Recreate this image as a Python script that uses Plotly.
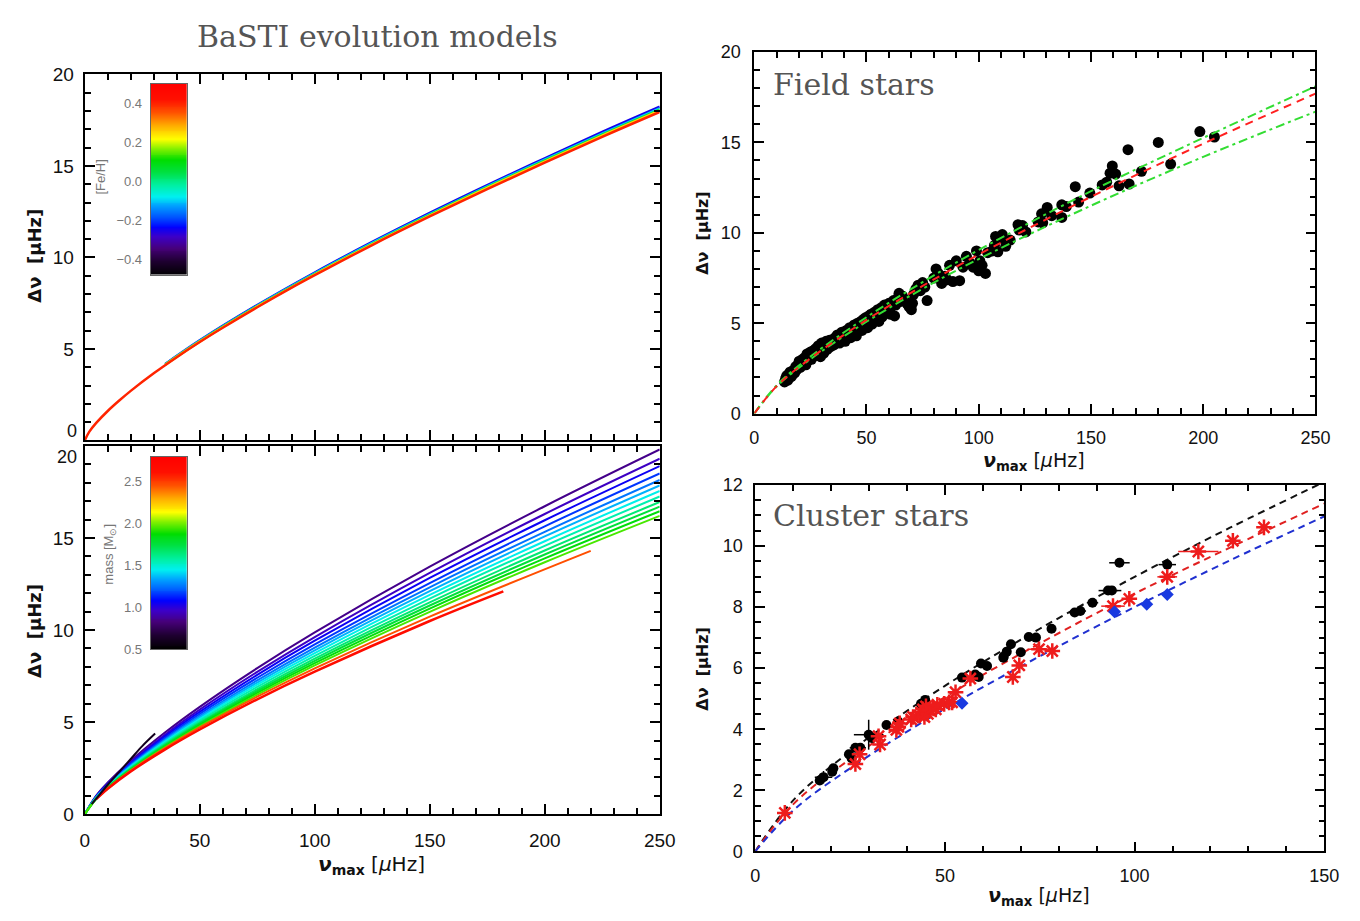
import numpy as np
import plotly.graph_objects as go
from plotly.colors import sample_colorscale

W, H = 1360, 921

# ---------------- data ----------------
# Panel A: BaSTI tracks coloured by [Fe/H]
feh_values = [-0.25, -0.10, 0.05, 0.25]
feh_numax = [35, 50, 75, 100, 125, 150, 175, 200, 225, 250]
feh_dnu_m025 = [4.18, 5.47, 7.40, 9.18, 10.85, 12.44, 13.96, 15.42, 16.86, 18.24]
feh_dnu_m010 = [4.16, 5.44, 7.36, 9.13, 10.80, 12.37, 13.89, 15.35, 16.77, 18.15]
feh_dnu_p005 = [4.15, 5.42, 7.33, 9.09, 10.75, 12.33, 13.84, 15.29, 16.71, 18.08]
feh_dnu_p025 = [4.14, 5.40, 7.31, 9.07, 10.72, 12.29, 13.80, 15.24, 16.66, 18.02]
feh_red_value = 0.40
feh_red_numax = [0, 2, 5, 10, 15, 20, 30, 40, 50, 60, 75, 90, 100, 125, 150, 175, 200, 225, 250]
feh_red_dnu = [0, 0.48, 0.96, 1.61, 2.18, 2.71, 3.67, 4.55, 5.38, 6.16, 7.28, 8.35, 9.03,
               10.68, 12.24, 13.74, 15.18, 16.59, 17.95]

# Panel B: BaSTI tracks coloured by mass
mass_values = [0.85, 0.95, 1.05, 1.15, 1.25, 1.35, 1.45, 1.55, 1.65, 1.75, 1.85, 1.95]
mass_numax = [0, 5, 10, 20, 35, 50, 75, 100, 150, 200, 250]
mass_dnu_085 = [0, 1.01, 1.72, 2.91, 4.45, 5.83, 7.93, 9.87, 13.44, 16.72, 19.80]
mass_dnu_095 = [0, 0.99, 1.67, 2.83, 4.33, 5.68, 7.73, 9.62, 13.10, 16.30, 19.30]
mass_dnu_105 = [0, 0.97, 1.64, 2.77, 4.24, 5.56, 7.57, 9.42, 12.83, 15.96, 18.90]
mass_dnu_115 = [0, 0.95, 1.60, 2.72, 4.15, 5.45, 7.41, 9.22, 12.55, 15.63, 18.50]
mass_dnu_125 = [0, 0.93, 1.57, 2.66, 4.07, 5.34, 7.27, 9.05, 12.32, 15.33, 18.15]
mass_dnu_135 = [0, 0.91, 1.55, 2.62, 4.01, 5.26, 7.15, 8.90, 12.11, 15.08, 17.85]
mass_dnu_145 = [0, 0.90, 1.52, 2.58, 3.94, 5.17, 7.03, 8.75, 11.91, 14.82, 17.55]
mass_dnu_155 = [0, 0.88, 1.49, 2.53, 3.87, 5.08, 6.91, 8.60, 11.71, 14.57, 17.25]
mass_dnu_165 = [0, 0.87, 1.47, 2.49, 3.81, 4.99, 6.79, 8.45, 11.50, 14.32, 16.95]
mass_dnu_175 = [0, 0.85, 1.45, 2.45, 3.75, 4.92, 6.69, 8.33, 11.33, 14.10, 16.70]
mass_dnu_185 = [0, 0.84, 1.43, 2.41, 3.69, 4.84, 6.59, 8.20, 11.16, 13.89, 16.45]
mass_dnu_195 = [0, 0.83, 1.40, 2.38, 3.64, 4.77, 6.49, 8.08, 10.99, 13.68, 16.20]
mass_orange_value = 2.45
mass_orange_numax = [5, 10, 20, 35, 50, 75, 100, 150, 220]
mass_orange_dnu = [0.84, 1.41, 2.37, 3.60, 4.71, 6.38, 7.92, 10.73, 14.30]
mass_red_value = 2.65
mass_red_numax = [5, 10, 20, 35, 50, 75, 100, 150, 182]
mass_red_dnu = [0.82, 1.38, 2.32, 3.52, 4.60, 6.24, 7.74, 10.49, 12.10]
mass_low_value = 0.60
mass_low_numax = [3, 5, 10, 15, 20, 25, 30.6]
mass_low_dnu = [0.55, 0.85, 1.60, 2.30, 3.00, 3.70, 4.38]

# Panel C: field stars
field_numax = [13.5, 14.0, 14.5, 15.0, 15.5, 16.0, 16.5, 17.0, 17.5, 18.0, 18.5, 19.0, 19.5, 20.0, 20.5,
               21.0, 21.5, 22.0, 22.5, 23.0, 23.5, 24.0, 24.5, 25.0, 25.5, 26.0, 26.5, 27.0, 27.5, 28.0,
               28.5, 29.0, 29.5, 30.0, 30.5, 31.0, 31.5, 32.0, 32.5, 33.0, 33.5, 34.0, 34.5, 35.0, 35.5,
               36.0, 36.5, 37.0, 37.5, 38.0, 38.5, 39.0, 39.5, 40.0, 40.5, 41.0, 41.5, 42.0, 42.5, 43.0,
               43.5, 44.0, 44.5, 45.0, 45.5, 46.0, 46.5, 47.0, 47.5, 48.0, 48.5, 49.0, 49.5, 50.0, 50.5,
               51.0, 51.5, 52.0, 52.5, 53.0, 53.5, 54.0, 54.5, 55.0, 55.5, 56.0, 56.5, 57.0, 57.5, 58.0,
               59.0, 59.5, 60.0, 60.5, 61.0, 62.0, 62.5, 63.0, 64.0, 64.5, 65.0, 66.0, 67.0, 68.0, 69.0,
               70.0, 70.5, 71.0, 72.0, 73.0, 74.0, 75.0, 76.0, 77.0, 80.0, 81.0, 82.0, 83.5, 85.0, 86.0,
               87.0, 88.5, 90.0, 91.5, 93.0, 94.5, 96.0, 97.5, 99.0, 100.0, 100.5, 101.5, 103.0, 104.0,
               106.0, 107.0, 107.5, 108.5, 110.0, 110.5, 112.0, 114.0, 117.5, 118.0, 119.5, 121.0,
               126.5, 128.0, 128.5, 130.5, 132.5, 137.0, 137.0, 139.0, 143.0, 144.5, 149.5, 155.0,
               157.0, 158.5, 159.5, 161.0, 162.5, 166.5, 167.0, 172.5, 180.0, 185.5, 198.5, 205.0]
field_dnu = [1.75, 1.95, 2.10, 1.85, 2.20, 2.30, 2.05, 2.15, 2.40, 2.25, 2.60, 2.45, 2.70, 2.90, 2.55,
             2.75, 3.00, 2.85, 3.10, 2.70, 3.30, 2.95, 3.15, 3.40, 3.00, 3.25, 3.50, 3.20, 3.60, 3.35,
             3.75, 3.45, 3.15, 3.90, 3.60, 3.35, 3.80, 4.00, 3.55, 3.85, 4.05, 3.70, 3.95, 4.10, 3.80,
             4.20, 3.95, 4.35, 4.05, 3.90, 4.30, 4.50, 4.15, 4.40, 4.00, 4.60, 4.30, 4.50, 4.75, 4.20,
             4.65, 4.45, 4.90, 4.55, 4.30, 5.00, 4.70, 4.85, 5.10, 4.60, 5.20, 4.90, 5.30, 5.05, 4.75,
             5.40, 5.10, 5.50, 4.95, 5.30, 5.60, 5.20, 5.45, 5.75, 5.10, 5.55, 5.85, 5.35, 5.70, 6.00,
             5.60, 5.85, 6.10, 5.50, 5.90, 6.25, 5.40, 6.00, 6.40, 6.65, 6.20, 6.50, 6.30, 6.10, 5.90,
             5.75, 6.10, 6.60, 6.90, 7.10, 6.80, 7.25, 7.00, 6.25, 7.50, 8.00, 7.75, 7.20, 7.60, 7.40,
             8.20, 7.30, 8.45, 7.35, 8.10, 8.70, 8.35, 8.10, 9.00, 7.90, 8.45, 8.20, 7.75, 8.90,
             9.00, 9.30, 9.80, 8.95, 9.70, 9.90, 9.25, 9.60, 10.45, 10.15, 10.40, 10.05,
             10.60, 11.05, 10.55, 11.40, 10.95, 11.55, 10.85, 11.45, 12.55, 11.70, 12.20, 12.65,
             12.80, 13.30, 13.70, 13.25, 12.60, 14.60, 12.70, 13.40, 15.00, 13.80, 15.60, 15.30]
fit_numax = [0, 10, 25, 50, 75, 100, 150, 200, 250]
fit_dnu_mid = [0, 1.52, 3.05, 5.18, 7.06, 8.80, 11.99, 14.93, 17.70]
fit_dnu_upper = [0, 1.57, 3.15, 5.33, 7.27, 9.05, 12.30, 15.25, 18.10]
fit_dnu_lower = [0, 1.50, 3.00, 5.08, 6.90, 8.55, 11.50, 14.20, 16.70]

# Panel D: cluster stars
cl_black_numax = [17.0, 18.0, 20.3, 20.6, 24.7, 25.4, 26.4, 27.7, 29.9, 30.7, 34.6, 37.7, 43.7, 44.8,
                  54.5, 58.0, 58.9, 59.5, 61.1, 65.4, 65.5, 66.3, 67.4, 70.0, 72.1, 74.0, 78.1, 84.2,
                  85.7, 88.9, 93.0, 94.0, 96.0, 108.6]
cl_black_dnu = [2.32, 2.43, 2.61, 2.72, 3.18, 3.05, 3.39, 3.39, 3.82, 3.71, 4.14, 4.25, 4.83, 4.96,
                5.69, 5.79, 5.71, 6.15, 6.07, 6.34, 6.38, 6.54, 6.78, 6.52, 7.02, 7.00, 7.29, 7.82,
                7.87, 8.14, 8.54, 8.54, 9.45, 9.39]
cl_black_errx = [0, 2.3, 0, 0, 0, 0, 1.5, 1.5, 3.9, 0, 0, 0, 0, 0,
                 0, 0, 0, 0, 0, 0, 0, 0, 0, 0, 0, 0, 1.2, 1.5,
                 1.5, 1.5, 2.5, 2.5, 2.7, 2.3]
cl_black_erry = [0, 0.2, 0, 0, 0, 0, 0, 0, 0.49, 0, 0, 0, 0, 0.12,
                 0, 0, 0, 0, 0, 0, 0, 0, 0, 0, 0, 0, 0, 0,
                 0, 0, 0, 0, 0, 0]
cl_red_numax = [7.8, 26.4, 27.5, 32.5, 32.9, 37.2, 37.7, 38.1, 41.1, 41.6, 43.3, 43.7, 44.2, 44.6,
                45.0, 45.5, 45.9, 46.8, 47.6, 48.0, 49.8, 51.1, 51.9, 52.8, 56.7, 67.9, 69.6, 74.8,
                78.3, 94.3, 98.6, 108.6, 116.8, 125.9, 134.1]
cl_red_dnu = [1.26, 2.86, 3.18, 3.77, 3.50, 3.98, 4.08, 4.19, 4.32, 4.40, 4.45, 4.55, 4.65, 4.40,
              4.75, 4.50, 4.62, 4.70, 4.65, 4.80, 4.83, 4.88, 4.88, 5.21, 5.66, 5.71, 6.09, 6.62,
              6.56, 8.03, 8.27, 8.99, 9.82, 10.17, 10.61]
cl_red_errx = [0, 0, 0, 0, 0, 0, 0, 0, 0, 0, 0, 0, 0, 0,
               0, 0, 0, 0, 0, 0, 0, 0, 0, 0, 0, 0, 0, 3.0,
               0, 3.1, 1.2, 2.6, 5.3, 1.5, 1.2]
cl_blue_numax = [54.5, 94.7, 103.2, 108.6]
cl_blue_dnu = [4.85, 7.85, 8.09, 8.41]
cl_fit_numax = [0, 10, 25, 50, 75, 100, 125, 150]
cl_fit_black = [0, 1.67, 3.27, 5.42, 7.29, 8.99, 10.59, 12.10]
cl_fit_red = [0, 1.54, 3.02, 5.05, 6.81, 8.44, 9.94, 11.39]
cl_fit_blue = [0, 1.34, 2.72, 4.67, 6.39, 8.00, 9.52, 10.97]

# colour bar ranges
feh_cbar_range = [-0.48, 0.50]
feh_cbar_ticks = [-0.4, -0.2, 0.0, 0.2, 0.4]
mass_cbar_range = [0.50, 2.79]
mass_cbar_ticks = [0.5, 1.0, 1.5, 2.0, 2.5]

# ---------------- style ----------------
rainbow = [[0.0, '#000000'], [0.07, '#1e0030'], [0.14, '#46007a'], [0.2, '#3c00c8'],
           [0.25, '#0000ff'], [0.3, '#0050ff'], [0.36, '#00a0ff'], [0.41, '#00f0f0'],
           [0.47, '#00f0a0'], [0.54, '#00e040'], [0.6, '#00dd00'], [0.66, '#80f000'],
           [0.71, '#ffff00'], [0.78, '#ffb000'], [0.85, '#ff5000'], [0.92, '#ff1000'],
           [1.0, '#ff0000']]


def cmap(v, rng):
    f = (v - rng[0]) / (rng[1] - rng[0])
    f = min(max(f, 0.0), 1.0)
    return sample_colorscale(rainbow, [f])[0]


def px_x(p):
    return p / W


def px_y(p):
    return 1 - p / H


fig = go.Figure()

# ---- panel A ----
feh_tracks = [feh_dnu_m025, feh_dnu_m010, feh_dnu_p005, feh_dnu_p025]
for v, d in zip(feh_values, feh_tracks):
    fig.add_trace(go.Scatter(x=feh_numax, y=d, mode='lines', line=dict(color=cmap(v, feh_cbar_range), width=2.5, shape='spline'),
                             xaxis='x', yaxis='y', showlegend=False, hoverinfo='skip'))
fig.add_trace(go.Scatter(x=feh_red_numax, y=feh_red_dnu, mode='lines',
                         line=dict(color=cmap(feh_red_value, feh_cbar_range), width=2.5, shape='spline'),
                         xaxis='x', yaxis='y', showlegend=False, hoverinfo='skip'))

# ---- panel B ----
mass_tracks = [mass_dnu_085, mass_dnu_095, mass_dnu_105, mass_dnu_115, mass_dnu_125, mass_dnu_135,
               mass_dnu_145, mass_dnu_155, mass_dnu_165, mass_dnu_175, mass_dnu_185, mass_dnu_195]
for v, d in zip(mass_values, mass_tracks):
    fig.add_trace(go.Scatter(x=mass_numax, y=d, mode='lines', line=dict(color=cmap(v, mass_cbar_range), width=2, shape='spline'),
                             xaxis='x2', yaxis='y2', showlegend=False, hoverinfo='skip'))
fig.add_trace(go.Scatter(x=mass_orange_numax, y=mass_orange_dnu, mode='lines',
                         line=dict(color=cmap(mass_orange_value, mass_cbar_range), width=2, shape='spline'),
                         xaxis='x2', yaxis='y2', showlegend=False, hoverinfo='skip'))
fig.add_trace(go.Scatter(x=mass_red_numax, y=mass_red_dnu, mode='lines',
                         line=dict(color=cmap(mass_red_value, mass_cbar_range), width=2.5, shape='spline'),
                         xaxis='x2', yaxis='y2', showlegend=False, hoverinfo='skip'))
fig.add_trace(go.Scatter(x=mass_low_numax, y=mass_low_dnu, mode='lines',
                         line=dict(color=cmap(mass_low_value, mass_cbar_range), width=2, shape='spline'),
                         xaxis='x2', yaxis='y2', showlegend=False, hoverinfo='skip'))

# ---- panel C ----
fig.add_trace(go.Scatter(x=field_numax, y=field_dnu, mode='markers',
                         marker=dict(color='black', size=11, symbol='circle'),
                         xaxis='x3', yaxis='y3', showlegend=False))
for d, col, dash in [(fit_dnu_upper, '#33dd33', '9px,4px,3px,4px'),
                     (fit_dnu_lower, '#33dd33', '9px,4px,3px,4px'),
                     (fit_dnu_mid, '#ff2020', '8px,6px')]:
    fig.add_trace(go.Scatter(x=fit_numax, y=d, mode='lines', line=dict(color=col, width=2, dash=dash, shape='spline'),
                             xaxis='x3', yaxis='y3', showlegend=False, hoverinfo='skip'))

# ---- panel D ----
for d, col in [(cl_fit_black, '#111111'), (cl_fit_red, '#e02020'), (cl_fit_blue, '#2030d0')]:
    fig.add_trace(go.Scatter(x=cl_fit_numax, y=d, mode='lines', line=dict(color=col, width=2, dash='7px,5px', shape='spline'),
                             xaxis='x4', yaxis='y4', showlegend=False, hoverinfo='skip'))
fig.add_trace(go.Scatter(x=cl_black_numax, y=cl_black_dnu, mode='markers',
                         marker=dict(color='black', size=10, symbol='circle'),
                         error_x=dict(type='data', array=cl_black_errx, color='black', thickness=1.5, width=0),
                         error_y=dict(type='data', array=cl_black_erry, color='black', thickness=1.5, width=0),
                         xaxis='x4', yaxis='y4', showlegend=False))
fig.add_trace(go.Scatter(x=cl_red_numax, y=cl_red_dnu, mode='markers',
                         marker=dict(color='#ee1c1c', size=13, symbol='asterisk-open',
                                     line=dict(color='#ee1c1c', width=2.5)),
                         error_x=dict(type='data', array=cl_red_errx, color='#ee1c1c', thickness=1.5, width=0),
                         xaxis='x4', yaxis='y4', showlegend=False))
fig.add_trace(go.Scatter(x=cl_blue_numax, y=cl_blue_dnu, mode='markers',
                         marker=dict(color='#1a3ae0', size=10, symbol='diamond'),
                         xaxis='x4', yaxis='y4', showlegend=False))

# ---- colour bars as heatmaps ----
feh_grad = list(np.linspace(feh_cbar_range[0], feh_cbar_range[1], 200))
fig.add_trace(go.Heatmap(z=[[v] for v in feh_grad], x=[0], y=feh_grad, colorscale=rainbow,
                         zmin=feh_cbar_range[0], zmax=feh_cbar_range[1], showscale=False,
                         xaxis='x5', yaxis='y5', hoverinfo='skip'))
mass_grad = list(np.linspace(mass_cbar_range[0], mass_cbar_range[1], 200))
fig.add_trace(go.Heatmap(z=[[v] for v in mass_grad], x=[0], y=mass_grad, colorscale=rainbow,
                         zmin=mass_cbar_range[0], zmax=mass_cbar_range[1], showscale=False,
                         xaxis='x6', yaxis='y6', hoverinfo='skip'))

# ---------------- axes ----------------
TICKFONT = dict(family='Liberation Sans, Arial, sans-serif', size=19, color='#111111')


def axis(domain, rng, dtick, mdtick, anchor, labels=True, lw=2, ticklen=10, fs=19, standoff=4, tickvals=None):
    d = dict(domain=domain, range=rng, anchor=anchor, showgrid=False, zeroline=False,
             showline=True, linecolor='black', linewidth=lw, mirror='ticks',
             ticks='inside', ticklen=ticklen, tickwidth=lw, tickcolor='black',
             tick0=0, dtick=dtick, showticklabels=labels, ticklabelstandoff=standoff,
             tickfont=dict(TICKFONT, size=fs),
             minor=dict(ticks='inside', ticklen=6, tick0=0, dtick=mdtick,
                        tickcolor='black', tickwidth=1.5, showgrid=False))
    if tickvals is not None:
        d['tickmode'] = 'array'
        d['tickvals'] = tickvals
    return d


xa = [px_x(81), px_x(665)]
fig.update_layout(
    xaxis=axis(xa, [0, 250], 50, 10, 'y', labels=False),
    yaxis=axis([px_y(440.5), px_y(66)], [0, 20], 5, 1, 'x', standoff=5, tickvals=[5, 10, 15, 20]),
    xaxis2=axis(xa, [0, 250], 50, 10, 'y2', standoff=8),
    yaxis2=axis([px_y(823), px_y(446)], [0, 20], 5, 1, 'x2', standoff=5, tickvals=[0, 5, 10, 15]),
    xaxis3=axis([px_x(761), px_x(1331)], [0, 250], 50, 10, 'y3', lw=1.6, fs=18, standoff=7),
    yaxis3=axis([px_y(413), px_y(43)], [0, 20], 5, 1, 'x3', lw=1.6, fs=18, standoff=8),
    xaxis4=axis([px_x(762), px_x(1340)], [0, 150], 50, 10, 'y4', lw=1.6, fs=18, standoff=7),
    yaxis4=axis([px_y(861), px_y(486)], [0, 12], 2, 0.5, 'x4', lw=1.6, fs=18, standoff=7),
    xaxis5=dict(domain=[px_x(148), px_x(185)], range=[-0.5, 0.5], anchor='y5', showticklabels=False,
                ticks='', showgrid=False, zeroline=False, showline=True, mirror=True, linecolor='#666', linewidth=1),
    yaxis5=dict(domain=[px_y(270.7), px_y(75.7)], range=feh_cbar_range, anchor='x5', tickvals=feh_cbar_ticks,
                tickformat='.1f', ticks='', showgrid=False, zeroline=False, showline=True, mirror=True,
                linecolor='#666', linewidth=1, ticklabelstandoff=5,
                tickfont=dict(family='Liberation Sans, Arial, sans-serif', size=13, color='#777777')),
    xaxis6=dict(domain=[px_x(148), px_x(185)], range=[-0.5, 0.5], anchor='y6', showticklabels=False,
                ticks='', showgrid=False, zeroline=False, showline=True, mirror=True, linecolor='#666', linewidth=1),
    yaxis6=dict(domain=[px_y(654), px_y(457.3)], range=mass_cbar_range, anchor='x6', tickvals=mass_cbar_ticks,
                tickformat='.1f', ticks='', showgrid=False, zeroline=False, showline=True, mirror=True,
                linecolor='#666', linewidth=1, ticklabelstandoff=5,
                tickfont=dict(family='Liberation Sans, Arial, sans-serif', size=13, color='#777777')),
    width=W, height=H, margin=dict(l=0, r=0, t=0, b=0),
    paper_bgcolor='white', plot_bgcolor='white', showlegend=False,
)

# ---------------- text ----------------
SERIF = dict(family='DejaVu Serif, Liberation Serif, serif', size=30, color='#555555')
LAB = dict(family='DejaVu Sans, Liberation Sans, sans-serif', size=18, color='#111111')
TICKLAB = dict(family='Liberation Sans, Arial, sans-serif', size=18, color='#111111')
anns = [
    dict(text='BaSTI evolution models', x=px_x(378), y=px_y(27), xanchor='center', yanchor='middle', font=SERIF),
    dict(text='Field stars', x=px_x(778), y=px_y(76), xanchor='left', yanchor='middle', font=SERIF),
    dict(text='Cluster stars', x=px_x(778), y=px_y(517), xanchor='left', yanchor='middle', font=SERIF),
    dict(text='0', x=px_x(75), y=px_y(431), xanchor='right', yanchor='middle', font=TICKLAB),
    dict(text='20', x=px_x(75), y=px_y(457), xanchor='right', yanchor='middle', font=TICKLAB),
    dict(text='<b>Δν  [μHz]</b>', x=px_x(30), y=px_y(252), textangle=-90, xanchor='center', yanchor='middle', font=LAB),
    dict(text='<b>Δν  [μHz]</b>', x=px_x(30), y=px_y(636), textangle=-90, xanchor='center', yanchor='middle', font=LAB),
    dict(text='<b>Δν  [μHz]</b>', x=px_x(709), y=px_y(228), textangle=-90, xanchor='center', yanchor='middle', font=dict(LAB, size=16)),
    dict(text='<b>Δν  [μHz]</b>', x=px_x(709), y=px_y(674), textangle=-90, xanchor='center', yanchor='middle', font=dict(LAB, size=16)),
    dict(text='<b><i>ν</i></b><sub><b>max</b></sub> [<i>μ</i>Hz]', x=px_x(372), y=px_y(875), xanchor='center', yanchor='middle',
         font=dict(LAB, size=20)),
    dict(text='<b><i>ν</i></b><sub><b>max</b></sub> [<i>μ</i>Hz]', x=px_x(1045), y=px_y(462), xanchor='center', yanchor='middle',
         font=dict(LAB, size=19)),
    dict(text='<b><i>ν</i></b><sub><b>max</b></sub> [<i>μ</i>Hz]', x=px_x(1050), y=px_y(907), xanchor='center', yanchor='middle',
         font=dict(LAB, size=19)),
    dict(text='[Fe/H]', x=px_x(97), y=px_y(171), textangle=-90, xanchor='center', yanchor='middle',
         font=dict(family='Liberation Sans, Arial, sans-serif', size=13, color='#777777')),
    dict(text='mass [M<sub>⊙</sub>]', x=px_x(106), y=px_y(557), textangle=-90, xanchor='center', yanchor='middle',
         font=dict(family='Liberation Sans, Arial, sans-serif', size=13, color='#777777')),
]
for a in anns:
    a.update(xref='paper', yref='paper', showarrow=False)
fig.update_layout(annotations=anns)

fig.write_html('out.html')
